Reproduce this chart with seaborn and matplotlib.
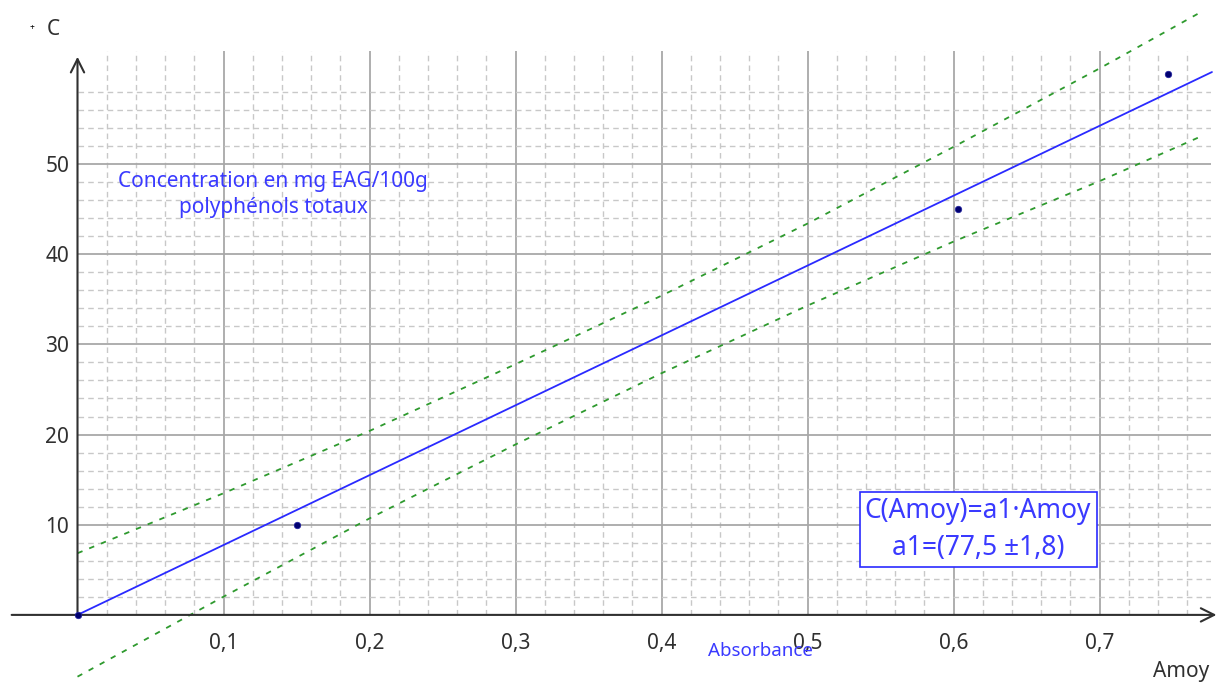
import numpy as np
import seaborn as sns
import pandas as pd
from matplotlib import pyplot as plt

# measured points (absorbance, concentration)
absorbance = [0.0, 0.15, 0.603, 0.747]
concentration = [0.0, 10.0, 45.0, 60.0]

# fitted model C = a1*A, endpoints
fit_x = [0.0, 0.777]
fit_y = [0.0, 60.2]

# dashed confidence band, read at each grid line
band_x = [0.0, 0.1, 0.2, 0.3, 0.4, 0.5, 0.6, 0.7, 0.77]
upper_y = [6.84, 13.49, 20.4, 27.8, 35.4, 43.4, 51.9, 60.6, 66.9]
lower_y = [-6.85, 2.02, 10.7, 18.9, 26.8, 34.3, 41.4, 48.1, 53.1]

x_ticks = [0.1, 0.2, 0.3, 0.4, 0.5, 0.6, 0.7]
x_labels = ["0,1", "0,2", "0,3", "0,4", "0,5", "0,6", "0,7"]
y_ticks = [10, 20, 30, 40, 50]
y_labels = ["10", "20", "30", "40", "50"]

sns.set_style("white")
plt.rcParams['font.family'] = ['Noto Sans', 'DejaVu Sans']

W, H = 1224, 690
fig = plt.figure(figsize=(W / 100, H / 100), dpi=100)
# axes cover the grid area only; everything else is drawn with clip_on=False
x0, x1 = 77.5, 1210.5
y0, y1 = 614.9, 51.3
ax = fig.add_axes([x0 / W, (H - y0) / H, (x1 - x0) / W, (y0 - y1) / H])
ax.set_xlim(0, 0.776)
ax.set_ylim(0, 62.5)
for s in ax.spines.values():
    s.set_visible(False)

# grid: solid majors, dashed minors
for v in np.arange(0.02, 0.776, 0.02):
    major = abs(v * 10 - round(v * 10)) < 1e-6
    ax.axvline(v, color='#a8a8a8' if major else '#c8c8c8', lw=1.3 if major else 1.0,
               ls='-' if major else (0, (4, 3)), zorder=0)
for v in np.arange(2, 59, 2):
    major = v % 10 == 0
    ax.axhline(v, color='#a8a8a8' if major else '#c8c8c8', lw=1.3 if major else 1.0,
               ls='-' if major else (0, (4, 3)), zorder=0)

# axes with open arrows
ax.annotate('', xy=(0.782, 0), xytext=(-0.047, 0), annotation_clip=False,
            arrowprops=dict(arrowstyle='->', color='#303030', lw=1.5, mutation_scale=24))
ax.annotate('', xy=(0, 62.2), xytext=(0, 0), annotation_clip=False,
            arrowprops=dict(arrowstyle='->', color='#303030', lw=1.5, mutation_scale=24))

band_df = pd.concat([
    pd.DataFrame({'A': band_x, 'C': upper_y, 'side': 'upper'}),
    pd.DataFrame({'A': band_x, 'C': lower_y, 'side': 'lower'}),
])
sns.lineplot(data=band_df, x='A', y='C', units='side', estimator=None, color='#2e9a2e',
             lw=1.3, ax=ax, sort=False)
sns.lineplot(x=fit_x, y=fit_y, color='#2a2aff', lw=1.3, ax=ax)
for ln in ax.lines[-3:]:
    ln.set_clip_on(False)
for ln in ax.lines[-3:-1]:
    ln.set_linestyle((0, (3, 4)))
sns.scatterplot(x=absorbance, y=concentration, color='#000070', marker='o', s=22,
                edgecolor='#2020a0', linewidth=0.5, ax=ax, zorder=5, clip_on=False)

ax.set_xticks(x_ticks, x_labels)
ax.set_yticks(y_ticks, y_labels)
ax.tick_params(axis='x', length=0, pad=13, labelsize=15, labelcolor='#303030')
ax.tick_params(axis='y', length=0, pad=6, labelsize=15, labelcolor='#303030')
ax.set_xlabel('')
ax.set_ylabel('')

ax.text(-0.0168, 64.9, 'C', ha='center', va='center', fontsize=15, color='#303030', clip_on=False)
ax.text(-0.0312, 65.1, '+', ha='center', va='center', fontsize=6, color='black', clip_on=False)
ax.text(0.7558, -6.33, 'Amoy', ha='center', va='center', fontsize=15, color='#303030', clip_on=False)
ax.text(0.468, -4.0, 'Absorbance', ha='center', va='center', fontsize=13.5, color='#3a3aff', clip_on=False)
ax.text(0.134, 46.6, 'Concentration en mg EAG/100g\npolyphénols totaux', ha='center', va='center',
        fontsize=15, color='#3a3aff', linespacing=1.3)
ax.text(0.6168, 9.48, 'C(Amoy)=a1·Amoy\na1=(77,5 ±1,8)', ha='center', va='center', fontsize=19,
        color='#3a3aff', linespacing=1.4,
        bbox=dict(boxstyle='square,pad=0.2', fc='white', ec='#2a2aff', lw=1.2))

fig.savefig('out.png', dpi=100)
